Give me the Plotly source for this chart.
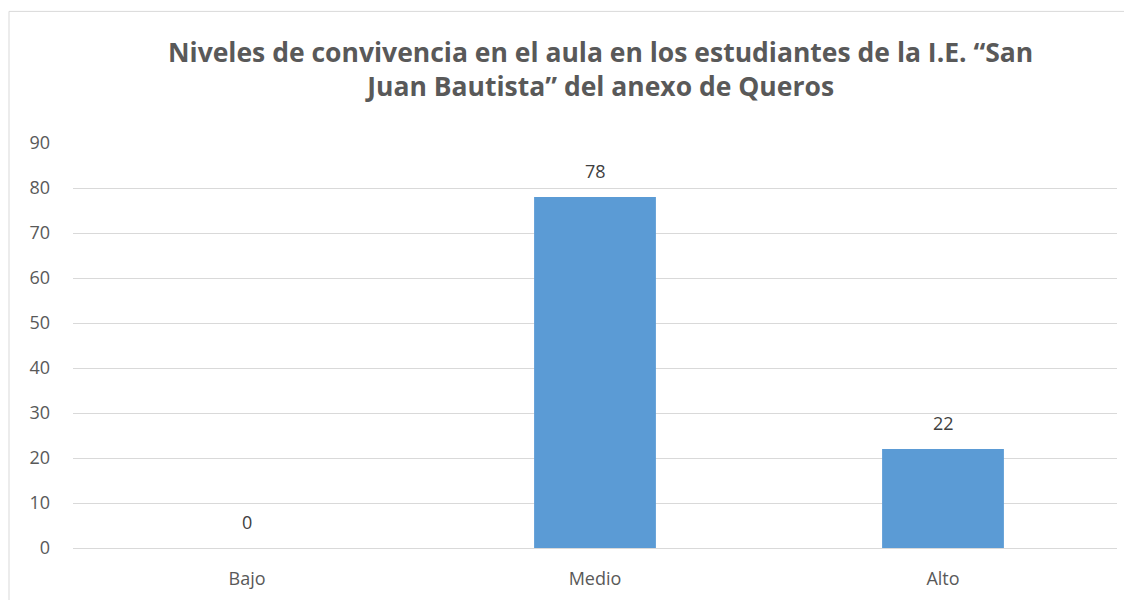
import plotly.graph_objects as go

categories = ["Bajo", "Medio", "Alto"]
values = [0, 78, 22]
y_ticks = [0, 10, 20, 30, 40, 50, 60, 70, 80, 90]

fig = go.Figure()
fig.add_trace(go.Bar(
    x=categories, y=values,
    marker=dict(color="#5B9BD5", line=dict(width=0)),
    cliponaxis=False,
))

for c, v in zip(categories, values):
    fig.add_annotation(x=c, y=v, text=str(v), showarrow=False,
                       yanchor="bottom", yshift=12,
                       font=dict(family="Open Sans", size=18, color="#404040"))

fig.update_layout(
    width=1132, height=600,
    margin=dict(l=65, r=23, t=135, b=60),
    paper_bgcolor="white", plot_bgcolor="white",
    bargap=0.65,
    showlegend=False,
    font=dict(family="Open Sans", color="#595959"),
    xaxis=dict(showgrid=False, showline=False, ticks="",
               ticklabelstandoff=18,
               tickfont=dict(size=18, color="#595959")),
    yaxis=dict(range=[0, 90], tickvals=y_ticks, showgrid=True,
               gridcolor="#D9D9D9", gridwidth=1, zeroline=True,
               zerolinecolor="#D9D9D9", zerolinewidth=1,
               showline=False, ticks="", ticklabelstandoff=22,
               tickfont=dict(size=18, color="#595959")),
    shapes=[dict(type="rect", xref="paper", yref="paper",
                 x0=-0.0613, x1=1.0134, y0=-0.2, y1=1.325,
                 line=dict(color="#D9D9D9", width=1), layer="below")],
)

fig.add_annotation(
    text="<b>Niveles de convivencia en el aula en los estudiantes de la I.E. “San<br>Juan Bautista” del anexo de Queros</b>",
    xref="paper", yref="paper", x=0.505, y=1.275, xanchor="center", yanchor="top",
    showarrow=False, align="center",
    font=dict(family="Open Sans", size=26.5, color="#595959"),
)

fig.write_html("out.html")
